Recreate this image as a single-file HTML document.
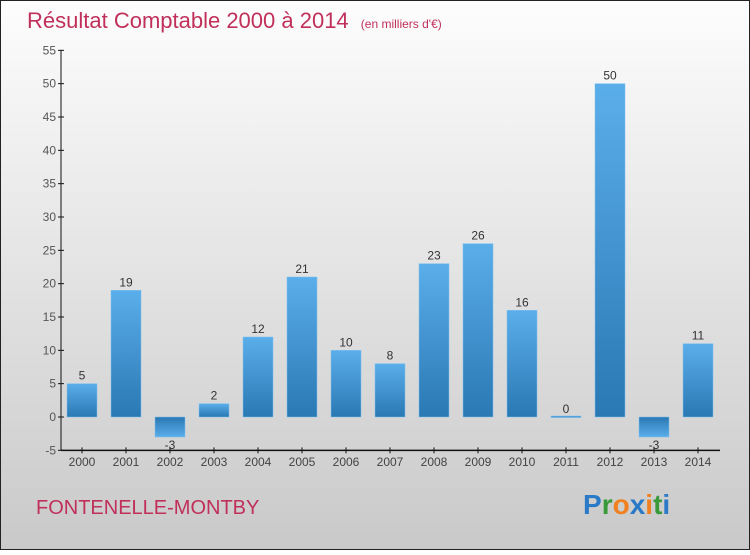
<!DOCTYPE html>
<html><head><meta charset="utf-8"><style>
body{margin:0}
svg text{font-family:"Liberation Sans",sans-serif}
</style></head><body>
<svg width="750" height="550" xmlns="http://www.w3.org/2000/svg">
<defs>
<linearGradient id="bg" x1="0" y1="0" x2="0" y2="1"><stop offset="0" stop-color="#fdfdfd"/><stop offset="1" stop-color="#c9c9c9"/></linearGradient>
<linearGradient id="gp" x1="0" y1="0" x2="0" y2="1"><stop offset="0" stop-color="#5aaeea"/><stop offset="1" stop-color="#2a78b4"/></linearGradient>
<linearGradient id="gn" x1="0" y1="0" x2="0" y2="1"><stop offset="0" stop-color="#2a78b4"/><stop offset="1" stop-color="#5aaeea"/></linearGradient>
</defs>
<rect x="0.5" y="0.5" width="749" height="549" fill="url(#bg)" stroke="#222"/>
<text x="27" y="28" font-size="22" fill="#c0305a">Résultat Comptable 2000 à 2014 <tspan font-size="12" dx="6">(en milliers d'€)</tspan></text>
<g id="yaxis"></g>
<g id="bars"></g>
<g id="xaxis"></g>
<text x="36" y="514" font-size="20" fill="#c0305a">FONTENELLE-MONTBY</text>
<text x="583" y="514" font-size="28" font-weight="bold"><tspan fill="#2a7ac8">P</tspan><tspan fill="#3a9a3a">r</tspan><tspan fill="#f08020">o</tspan><tspan fill="#2a7ac8">x</tspan><tspan fill="#f08020">i</tspan><tspan fill="#3a9a3a">t</tspan><tspan fill="#2a7ac8">i</tspan></text>
</svg>
<script>
const years=["2000","2001","2002","2003","2004","2005","2006","2007","2008","2009","2010","2011","2012","2013","2014"];
const values=[5,19,-3,2,12,21,10,8,23,26,16,0,50,-3,11];
const yTicks=[-5,0,5,10,15,20,25,30,35,40,45,50,55];
const NS="http://www.w3.org/2000/svg";
function y(v){return 417-v*(400/60);}
function x(i){return 82+i*44;}
function mk(t,a,p){const e=document.createElementNS(NS,t);for(const k in a)e.setAttribute(k,a[k]);p.appendChild(e);return e;}
const ya=document.getElementById('yaxis'),xa=document.getElementById('xaxis'),bs=document.getElementById('bars');
const l1=mk('line',{x1:61,y1:y(55),x2:61,y2:y(-5),stroke:'#111'},ya);


yTicks.forEach(t=>{
 mk('line',{x1:58,x2:64,y1:y(t),y2:y(t),stroke:'#111'},ya);
 const tx=mk('text',{x:56,y:y(t)+4,'font-size':12,fill:'#555','text-anchor':'end'},ya);
 tx.textContent=t;
 
 
});
const l2=mk('line',{x1:61,y1:y(-5),x2:720,y2:y(-5),stroke:'#111','stroke-width':1.5},xa);


years.forEach((yr,i)=>{
 mk('line',{x1:x(i),x2:x(i),y1:y(-5)-3,y2:y(-5)+3,stroke:'#111'},xa);
 const tx=mk('text',{x:x(i),y:466,'font-size':12,fill:'#444','text-anchor':'middle'},xa);
 tx.textContent=yr;
 
 
 const v=values[i];
 const top=v>=0?y(v):y(0), h=Math.max(Math.abs(y(v)-y(0)),1.5);
 const r=mk('rect',{x:x(i)-15,y:v===0?y(0)-1:top,width:30,height:h,fill:v>=0?'url(#gp)':'url(#gn)',stroke:'#7cc0f0','stroke-width':0.5},bs);
 
 
 const lb=mk('text',{x:x(i),y:v>=0?y(v)-4:y(v)+12,'font-size':12,fill:'#333','text-anchor':'middle'},bs);
 lb.textContent=v;
 
 
});
</script>
</body></html>
